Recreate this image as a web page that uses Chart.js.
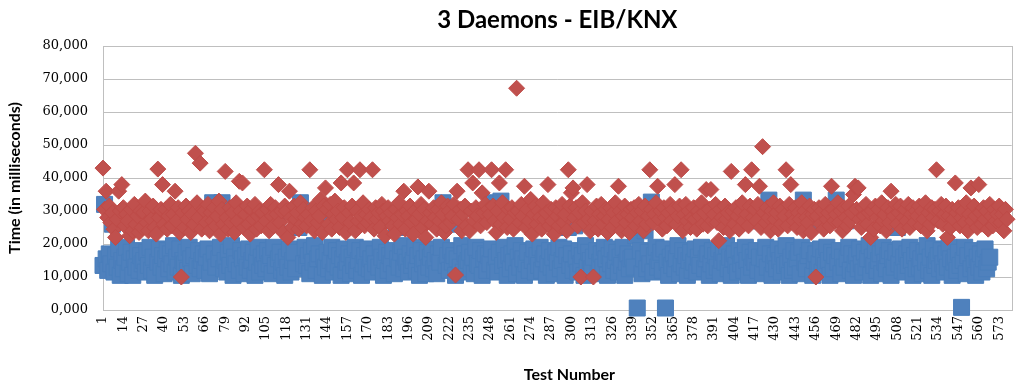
<!DOCTYPE html>
<html>
<head>
<meta charset="utf-8">
<title>3 Daemons - EIB/KNX</title>
<script src="https://cdn.jsdelivr.net/npm/chart.js@4.4.1/dist/chart.umd.min.js"></script>
<style>
    html, body { margin: 0; padding: 0; background: #fff; }
    #chartBox { width: 1024px; height: 388px; }
</style>
</head>
<body>
<div id="chartBox"><canvas id="timeChart" width="1024" height="388"></canvas></div>
<script>
// Test numbers 1..581 on the category axis
const testCount = 581;
const testNumbers = Array.from({length: testCount}, (_, i) => String(i + 1));

// Only these test numbers are printed under the axis
const tickLabels = [1, 14, 27, 40, 53, 66, 79, 92, 105, 118, 131, 144, 157, 170, 183, 196, 209, 222,
    235, 248, 261, 274, 287, 300, 313, 326, 339, 352, 365, 378, 391, 404, 417, 430, 443, 456, 469,
    482, 495, 508, 521, 534, 547, 560, 573];

const yTicks = [0, 10000, 20000, 30000, 40000, 50000, 60000, 70000, 80000];

// Blue squares (ms), one row per 13 tests
const blueTimes = [
    13500, 32000, 15500, 12000, 17000, 14000, 26000, 11500, 16500, 13000, 18500, 10500, 15000,
    12500, 16000, 19000, 11000, 14500, 17500, 10500, 15500, 13000, 18000, 12000, 16500, 14000,
    15000, 11500, 17500, 13500, 19000, 12000, 16000, 10500, 25700, 14500, 18500, 13000, 16500,
    11000, 15500, 18000, 12500, 17000, 14000, 19500, 11500, 16000, 13000, 18500, 10500, 15000,
    14000, 17500, 12000, 19000, 15500, 11000, 16500, 26700, 13500, 18000, 12500, 15000, 17000,
    12000, 16000, 18500, 11000, 14500, 32500, 17000, 13000, 31000, 15500, 19000, 32500, 12500,
    15000, 11500, 17500, 13500, 19500, 10500, 16000, 14000, 27000, 12000, 18000, 15500, 11000,
    16500, 13000, 18500, 12000, 15000, 17500, 10500, 14500, 19000, 11500, 16000, 13500, 17000,
    12500, 18000, 14000, 16500, 11000, 19000, 13500, 27000, 15500, 17500, 12000, 14500, 10500,
    16000, 13000, 18500, 11500, 15000, 17500, 12500, 28000, 25000, 32500, 30000, 14000, 19000,
    13500, 16500, 11000, 18000, 14500, 19500, 12000, 15500, 17000, 28000, 10500, 16000, 13000,
    17500, 12500, 15000, 19000, 11500, 14000, 18000, 13000, 16500, 10500, 15500, 18500, 12000,
    14500, 17000, 11000, 16000, 13500, 19000, 12000, 15000, 18000, 10500, 14000, 16500, 13000,
    18500, 12500, 15500, 11500, 17000, 14000, 26000, 13000, 19000, 16000, 10500, 15000, 17500,
    12000, 16500, 14000, 18000, 11000, 25000, 15500, 13000, 17500, 19500, 12500, 16000, 14500,
    11500, 17000, 13500, 15000, 19000, 12000, 16500, 10500, 18000, 14000, 15500, 11000, 17500,
    13000, 16000, 18500, 12500, 15000, 11000, 17000, 14500, 19000, 32500, 27000, 13500, 16500,
    12000, 18000, 14500, 16500, 10500, 15500, 26000, 13000, 19500, 11500, 17000, 14000, 15000,
    17500, 12500, 16000, 11000, 19000, 14000, 13500, 18000, 10500, 15500, 17000, 12000, 16500,
    14000, 18500, 32500, 12000, 16000, 11500, 17500, 33000, 13500, 19000, 15000, 10500, 16500,
    12500, 17000, 14500, 19500, 11000, 16000, 13000, 18000, 15500, 10500, 14000, 17500, 12000,
    26500, 15000, 18500, 11500, 16500, 13500, 19000, 12000, 15500, 17000, 10500, 14000, 18000,
    13000, 16000, 11000, 17500, 14500, 19000, 12500, 15000, 18500, 10500, 16500, 25000, 13500,
    17000, 12000, 25500, 15500, 11500, 18000, 14000, 16500, 10500, 19500, 13000, 17500, 15000,
    12500, 16000, 27000, 18000, 11000, 14500, 17000, 13000, 19000, 15500, 10500, 16500, 14000,
    18500, 12000, 15000, 17500, 11500, 16000, 13500, 19000, 10500, 14500, 17000, 12500, 15500,
    16000, 13000, 22500, 600, 25000, 18000, 11000, 15500, 24000, 12500, 17500, 14000, 32700,
    11500, 16500, 19000, 13000, 15000, 17500, 12000, 18500, 600, 14500, 10500, 16000, 13500,
    17000, 12500, 15500, 19500, 11000, 14000, 18000, 13000, 16500, 10500, 15000, 17500, 12000,
    14500, 18500, 11500, 16000, 13500, 19000, 27000, 12500, 15500, 17000, 10500, 14000, 18000,
    12000, 16500, 13000, 18500, 11000, 15000, 17500, 14500, 19500, 12500, 16000, 10500, 15500,
    17000, 13500, 11500, 18000, 14000, 16500, 12000, 19000, 15000, 10500, 17500, 13000, 16000,
    14500, 18000, 12000, 16000, 27000, 11000, 15500, 19000, 13000, 33300, 17000, 10500, 14000,
    16500, 12500, 18500, 15000, 11500, 17000, 13500, 19500, 14000, 10500, 16000, 12000, 18000,
    13000, 15500, 17500, 11000, 19000, 33300, 14500, 12500, 16500, 18000, 26000, 10500, 15000,
    17000, 12000, 14000, 18500, 11500, 16000, 13500, 19000, 15000, 10500, 17500, 12500, 16500,
    33300, 14500, 18000, 11000, 16000, 13000, 27000, 15500, 19000, 12000, 17000, 10500, 14000,
    16500, 12500, 18500, 14000, 11500, 17500, 13000, 15500, 19500, 10500, 16000, 13500, 18000,
    12000, 15000, 17000, 11000, 19000, 14500, 12500, 16500, 18000, 10500, 15500, 13000, 17500,
    25000, 14000, 18500, 12000, 16000, 11500, 17000, 13500, 19000, 15000, 10500, 16500, 12500,
    18000, 13000, 15500, 11000, 17500, 14500, 19500, 12000, 16000, 10500, 18500, 13500, 15000,
    16500, 12500, 18000, 14000, 11500, 17000, 13000, 19000, 15500, 10500, 14500, 16000, 12000,
    17500, 13500, 800, 15000, 19000, 11000, 16500, 26000, 12500, 18000, 14000, 10500, 16000,
    13000, 17000, 11500, 15500, 18500, 12500, 14500, 16000
];

// Red diamonds (ms), one row per 13 tests
const redTimes = [
    43000, 30500, 36000, 28000, 31500, 26500, 29500, 24500, 22000, 27500, 36000, 30000, 38000,
    31000, 25500, 29000, 27000, 22500, 30500, 24000, 32000, 26000, 28500, 23500, 30000, 25000,
    29500, 33000, 26500, 24000, 30000, 27500, 31500, 25000, 23000, 42700, 28000, 30500, 38000,
    26000, 30500, 24500, 28500, 32000, 25500, 29000, 36000, 27000, 31000, 23500, 10000, 29500,
    25000, 31500, 27500, 30000, 23500, 29000, 26000, 47500, 32500, 28000, 44500, 24500, 30500,
    30000, 26500, 32000, 24000, 29500, 27000, 31000, 25500, 28500, 33000, 23000, 30500, 26000,
    42000, 28000, 24500, 31000, 26500, 29500, 23500, 32500, 27000, 39000, 30000, 38500, 25000,
    29000, 31500, 26000, 23000, 30500, 27500, 32000, 24500, 28500, 30000, 25500, 29500, 42500,
    27000, 30500, 24000, 32000, 28500, 25500, 31000, 29000, 38000, 26500, 30000, 23500, 31500,
    30000, 22000, 36000, 28000, 25000, 31500, 27500, 29500, 24500, 32500, 26000, 30500, 28000,
    25500, 29000, 42500, 27000, 31000, 24000, 30000, 26500, 28500, 33500, 23500, 31500, 37000,
    30500, 26000, 32000, 24500, 29000, 33000, 27500, 30000, 25000, 38500, 28000, 31000, 23500,
    42500, 29500, 26500, 31500, 38500, 24000, 30000, 27000, 42500, 28500, 32500, 25500, 29000,
    26500, 30500, 28000, 42500, 24500, 31000, 27500, 29500, 25000, 32000, 30000, 22500, 28500,
    31000, 27000, 29500, 25500, 23000, 30500, 28000, 32500, 26000, 29000, 36000, 24500, 30000,
    28500, 31500, 26500, 23000, 30000, 27500, 37300, 29000, 32000, 25000, 30500, 22000, 27000,
    36000, 29500, 26000, 31000, 28000, 24500, 30500, 27000, 32500, 29000, 23500, 25500, 31500,
    30000, 26500, 28500, 32000, 10600, 36000, 27500, 30500, 24000, 29000, 31500, 25500, 42500,
    24000, 30000, 38500, 27000, 31000, 28500, 42500, 25500, 35500, 29500, 32000, 26500, 30500,
    29000, 42500, 31500, 27000, 23500, 30000, 38500, 26000, 32500, 28000, 42500, 25000, 30500,
    27500, 31000, 24500, 29500, 67200, 30000, 26500, 32000, 28500, 37500, 25000, 30500, 27000,
    33500, 23000, 29000, 31500, 26000, 30000, 28000, 24500, 32500, 27500, 29500, 38000, 25500,
    30500, 27000, 23000, 31000, 28500, 25500, 30000, 32000, 26500, 29000, 24000, 42500, 31500,
    35500, 37000, 28000, 31000, 25500, 29500, 10000, 32500, 26500, 30000, 38000, 27500, 24000,
    30000, 10000, 27000, 31500, 24500, 29000, 32000, 26000, 28500, 30500, 23500, 27500, 31000,
    25000, 29500, 32500, 27000, 37500, 30000, 24000, 28500, 31500, 26500, 29000, 23500, 30500,
    28000, 31000, 25500, 29500, 32000, 27000, 30000, 24000, 31500, 26000, 28500, 42500, 30500,
    26500, 29000, 32500, 37500, 27500, 30000, 24500, 31000, 28000, 25500, 29500, 32000, 27000,
    30500, 38000, 26000, 28500, 31500, 42500, 24000, 29000, 32000, 27000, 30000, 25000, 28000,
    31000, 27500, 24500, 30000, 28500, 32500, 26000, 29500, 36500, 25500, 30500, 36500, 27000,
    29000, 32000, 26500, 21000, 30500, 28000, 25000, 31500, 27500, 29500, 24000, 42000, 30000,
    26000, 31000, 28500, 24500, 30000, 32500, 27000, 38000, 29000, 25500, 31500, 42500, 28000,
    30500, 27000, 32000, 37500, 25000, 49500, 29500, 26500, 31000, 28000, 24000, 30000, 32500,
    27500, 29500, 24500, 31500, 26000, 30500, 28500, 42500, 25500, 32000, 38000, 29000, 27000,
    31000, 25000, 29500, 27500, 32500, 24000, 30000, 28000, 26500, 31500, 23500, 29000, 30500,
    10000, 28500, 31000, 26000, 30000, 24500, 32000, 27500, 29500, 25500, 37500, 30500, 27000,
    29000, 32500, 26500, 30000, 24000, 31000, 28000, 25500, 31500, 27000, 29500, 35000, 37500,
    30500, 37000, 27500, 25000, 31000, 28500, 32000, 26000, 29500, 22000, 30000, 24500, 31500,
    28000, 30500, 25500, 32500, 27000, 29000, 24000, 31000, 26500, 36000, 30000, 28500, 32000,
    26000, 29500, 31500, 24500, 28000, 30500, 27000, 32000, 25000, 29000, 31000, 26500, 30000,
    28500, 31500, 25500, 30000, 27500, 32500, 24000, 29500, 26000, 31000, 28000, 30500, 42500,
    27000, 30000, 32000, 26000, 29000, 31500, 22000, 28500, 25000, 30500, 27500, 38500, 29500,
    31000, 25500, 28000, 30000, 26500, 32500, 24000, 29000, 37000, 27000, 31500, 28500, 25000,
    38000, 29500, 26000, 31000, 27500, 30000, 24500, 32000, 28500, 25500, 30500, 27000, 29000,
    31500, 26500, 29000, 24000, 30500, 27500
];

const PLOT_LEFT = 103;
const GRID = '#BFBFBF';

// outline round the whole plot area (Excel style frame)
const plotFrame = {
    id: 'plotFrame',
    beforeDatasetsDraw(chart) {
        const {ctx, chartArea: a} = chart;
        ctx.save();
        ctx.strokeStyle = GRID;
        ctx.lineWidth = 1;
        ctx.strokeRect(Math.round(a.left) + 0.5, Math.round(a.top) + 0.5,
            Math.round(a.right - a.left), Math.round(a.bottom - a.top));
        ctx.restore();
    }
};

function formatTime(v) {
    return v === 0 ? '0,000' : v.toLocaleString('en-US');
}

const ctx = document.getElementById('timeChart').getContext('2d');
new Chart(ctx, {
    type: 'line',
    data: {
        labels: testNumbers,
        datasets: [{
            label: 'Series 1',
            data: blueTimes,
            showLine: false,
            pointStyle: 'rect',
            pointRadius: 11.3,
            pointHoverRadius: 11.3,
            pointBackgroundColor: '#4F81BD',
            pointBorderColor: '#4A7EBB',
            pointBorderWidth: 1,
            clip: false,
            order: 2
        }, {
            label: 'Series 2',
            data: redTimes,
            showLine: false,
            pointStyle: 'rectRot',
            pointRadius: 8,
            pointHoverRadius: 8,
            pointBackgroundColor: '#C0504D',
            pointBorderColor: '#BE4B48',
            pointBorderWidth: 1,
            clip: false,
            order: 1
        }]
    },
    options: {
        responsive: false,
        animation: false,
        layout: { padding: { top: 0, left: 0, right: 11, bottom: 0 } },
        plugins: {
            legend: { display: false },
            tooltip: { enabled: false },
            title: {
                display: true,
                fullSize: false,
                text: '3 Daemons - EIB/KNX',
                color: '#000',
                font: { family: 'Lato', size: 24, weight: 'bold', lineHeight: 1.2 },
                padding: { top: 6, bottom: 11.2 }
            }
        },
        scales: {
            x: {
                type: 'category',
                offset: false,
                grid: { display: false, drawTicks: false },
                border: { display: false },
                ticks: {
                    autoSkip: false,
                    minRotation: 90,
                    maxRotation: 90,
                    padding: 6,
                    color: '#000',
                    font: { family: 'DejaVu Serif', size: 13 },
                    callback: (value, index) => tickLabels.includes(index + 1) ? testNumbers[index] : null
                },
                title: {
                    display: true,
                    text: '\u2003\u2003Test Number',
                    color: '#000',
                    font: { family: 'Lato', size: 16, weight: 'bold', lineHeight: 1.2 },
                    padding: { top: 0, bottom: 4 }
                },
                afterFit(scale) { scale.height = 78; }
            },
            y: {
                min: 0,
                max: 80000,
                afterBuildTicks(scale) { scale.ticks = yTicks.map(v => ({value: v})); },
                grid: { color: GRID, drawTicks: false, lineWidth: 1 },
                border: { display: true, color: GRID },
                ticks: {
                    padding: 15,
                    color: '#000',
                    font: { family: 'DejaVu Serif', size: 13 },
                    callback: v => formatTime(v)
                },
                title: {
                    display: true,
                    text: 'Time (in milliseconds)',
                    color: '#000',
                    font: { family: 'Lato', size: 16, weight: 'bold', lineHeight: 1.2 },
                    padding: { top: 5, bottom: 0 }
                },
                afterFit(scale) { scale.width = PLOT_LEFT; }
            }
        }
    },
    plugins: [plotFrame]
});
</script>
</body>
</html>
